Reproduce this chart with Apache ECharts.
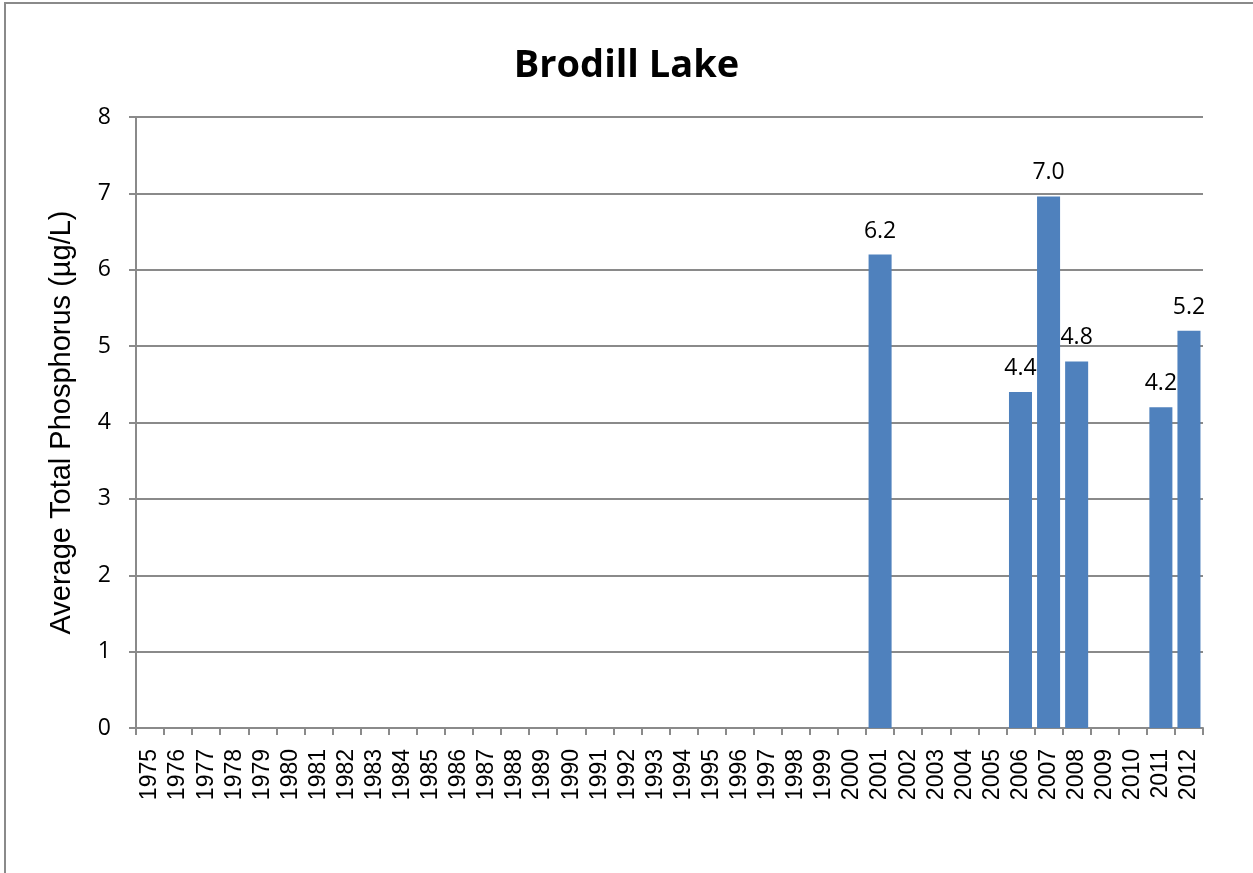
<!DOCTYPE html>
<html>
<head>
<meta charset="utf-8">
<script src="https://cdn.jsdelivr.net/npm/echarts@6/dist/echarts.min.js"></script>
<style>
  html, body { margin: 0; padding: 0; background: #fff; }
  #chart { width: 1253px; height: 873px; }
</style>
</head>
<body>
<div id="chart"></div>
<script>
// years 1975..2012, only some sampled
const years = []
for (let y = 1975; y <= 2012; y++) years.push(String(y))
const sampledYears = ['2001', '2006', '2007', '2008', '2011', '2012']
const sampledValues = [6.2, 4.4, 6.96, 4.8, 4.2, 5.2]
const yTicks = [0, 1, 2, 3, 4, 5, 6, 7, 8]

const values = years.map((y) => {
  const i = sampledYears.indexOf(y)
  return i >= 0 ? sampledValues[i] : null
})

const chart = echarts.init(document.getElementById('chart'))
chart.setOption({
  animation: false,
  title: {
    text: 'Brodill Lake',
    left: 'center',
    top: 42,
    textStyle: { fontFamily: 'Open Sans', fontWeight: 'bold', fontSize: 38, color: '#000' },
  },
  graphic: [{
    type: 'rect',
    shape: { x: 5, y: 3, width: 1400, height: 1000 },
    style: { fill: 'none', stroke: '#8a8a8a', lineWidth: 2 },
    silent: true,
  }],
  grid: { left: 136, right: 50, top: 117, bottom: 145 },
  xAxis: {
    type: 'category',
    data: years,
    axisLine: { lineStyle: { color: '#8a8a8a', width: 2 } },
    axisTick: { show: true, length: 7, interval: 0, lineStyle: { color: '#8a8a8a', width: 2 } },
    axisLabel: {
      interval: 0,
      rotate: 90,
      margin: 21,
      color: '#000',
      fontFamily: 'Liberation Sans',
      fontSize: 23,
    },
  },
  yAxis: {
    type: 'value',
    min: 0,
    max: yTicks[yTicks.length - 1],
    interval: 1,
    name: 'Average Total Phosphorus (µg/L)',
    nameLocation: 'middle',
    nameGap: 60,
    nameTextStyle: { fontFamily: 'Liberation Sans', fontSize: 29, color: '#000' },
    axisLine: { show: true, lineStyle: { color: '#8a8a8a', width: 2 } },
    axisTick: { show: true, length: 7, lineStyle: { color: '#8a8a8a', width: 2 } },
    axisLabel: { color: '#000', fontFamily: 'Open Sans', fontSize: 23, margin: 25 },
    splitLine: { lineStyle: { color: '#8a8a8a', width: 2 } },
  },
  series: [{
    type: 'bar',
    data: values,
    barCategoryGap: '18%',
    itemStyle: { color: '#4F81BD' },
    label: {
      show: true,
      position: 'top',
      distance: 12,
      color: '#000',
      fontFamily: 'Open Sans',
      fontSize: 23,
      formatter: (p) => p.value.toFixed(1),
    },
  }],
})
</script>
</body>
</html>
